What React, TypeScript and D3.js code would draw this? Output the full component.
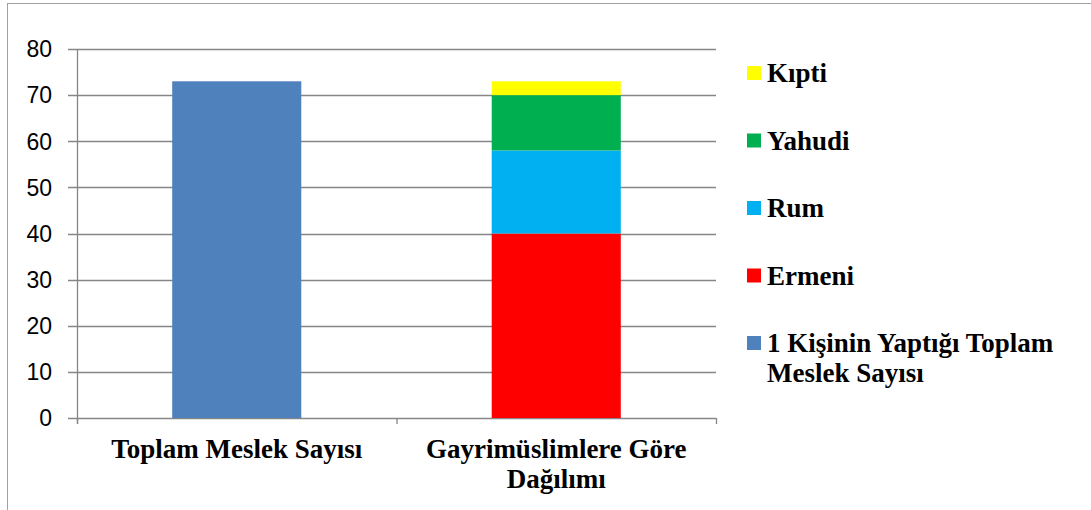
// Stacked bar chart — meslek sayıları ve gayrimüslimlere göre dağılım
import React from 'react';
import * as d3 from 'd3';

const categories = ['Toplam Meslek Sayısı', 'Gayrimüslimlere Göre Dağılımı'];
const categoryLines = [['Toplam Meslek Sayısı'], ['Gayrimüslimlere Göre', 'Dağılımı']];

// series: value per category
const seriesNames = ['1 Kişinin Yaptığı Toplam Meslek Sayısı', 'Ermeni', 'Rum', 'Yahudi', 'Kıpti'];
const totalValues = [73, 0];
const ermeniValues = [0, 40];
const rumValues = [0, 18];
const yahudiValues = [0, 12];
const kiptiValues = [0, 3];
const yTicks = [0, 10, 20, 30, 40, 50, 60, 70, 80];

const colors = ['#4f81bd', '#ff0000', '#00b0f0', '#00b050', '#ffff00'];
const legendLines = [['Kıpti'], ['Yahudi'], ['Rum'], ['Ermeni'], ['1 Kişinin Yaptığı Toplam', 'Meslek Sayısı']];
const legendColors = ['#ffff00', '#00b050', '#00b0f0', '#ff0000', '#4f81bd'];

const W = 1091;
const H = 510;
const margin = { left: 77, right: 375, top: 49, bottom: 92 };

const App: React.FC = () => {
  const innerW = W - margin.left - margin.right;
  const innerH = H - margin.top - margin.bottom;

  const x = d3.scaleBand<string>().domain(categories).range([0, innerW]).paddingInner(0.596).paddingOuter(0.298);
  const y = d3.scaleLinear().domain([0, 80]).range([innerH, 0]);

  const rows = categories.map((c, i) => ({
    cat: c,
    s0: totalValues[i],
    s1: ermeniValues[i],
    s2: rumValues[i],
    s3: yahudiValues[i],
    s4: kiptiValues[i],
  }));
  const stack = d3.stack<any>().keys(['s0', 's1', 's2', 's3', 's4']);
  const layers = stack(rows);

  const gridColor = '#868686';
  const serif = '"Liberation Serif", "Times New Roman", serif';
  const sans = '"Liberation Sans", Arial, sans-serif';

  return (
    <svg width={W} height={H} style={{ position: 'absolute', left: 0, top: 0, background: '#fff' }}>
      <rect x={7.5} y={3.5} width={W + 10} height={H + 10} fill="#fff" stroke="#a0a0a0" strokeWidth={1} />
      <g transform={`translate(${margin.left},${margin.top})`}>
        {/* сетка и подписи оси Y */}
        {yTicks.map((t) => (
          <g key={t}>
            <line x1={-9} x2={innerW} y1={Math.round(y(t)) + 0.5} y2={Math.round(y(t)) + 0.5} stroke={gridColor} strokeWidth={1.3} />
            <text x={-25} y={y(t)} dy="0.36em" textAnchor="end" fontFamily={sans} fontSize={23} fill="#000">
              {t}
            </text>
          </g>
        ))}
        <line x1={0.5} x2={0.5} y1={0} y2={innerH + 6} stroke={gridColor} strokeWidth={1.3} />
        {[0, innerW / 2, innerW].map((tx, i) => (
          <line key={i} x1={tx + 0.5} x2={tx + 0.5} y1={innerH} y2={innerH + 6} stroke={gridColor} strokeWidth={1.3} />
        ))}

        {/* столбцы */}
        {layers.map((layer, li) =>
          layer.map((d, di) =>
            d[1] - d[0] > 0 ? (
              <rect
                key={`${li}-${di}`}
                x={x(categories[di])}
                width={x.bandwidth()}
                y={y(d[1])}
                height={y(d[0]) - y(d[1])}
                fill={colors[li]}
              />
            ) : null
          )
        )}

        {/* подписи категорий */}
        {categories.map((c, i) => (
          <text key={c} x={(x(c) as number) + x.bandwidth() / 2} y={innerH + 40} textAnchor="middle" fontFamily={serif} fontWeight="bold" fontSize={27} fill="#000">
            {categoryLines[i].map((ln, j) => (
              <tspan key={j} x={(x(c) as number) + x.bandwidth() / 2} dy={j === 0 ? 0 : 30}>
                {ln}
              </tspan>
            ))}
          </text>
        ))}
      </g>

      {/* легенда */}
      <g transform="translate(747,73)">
        {legendLines.map((lines, i) => (
          <g key={i} transform={`translate(0,${i * 67.5})`}>
            <rect x={0} y={-7} width={14} height={14} fill={legendColors[i]} />
            <text x={20} y={9} fontFamily={serif} fontWeight="bold" fontSize={27} fill="#000">
              {lines.map((ln, j) => (
                <tspan key={j} x={20} dy={j === 0 ? 0 : 30}>
                  {ln}
                </tspan>
              ))}
            </text>
          </g>
        ))}
      </g>
    </svg>
  );
};

export default App;
